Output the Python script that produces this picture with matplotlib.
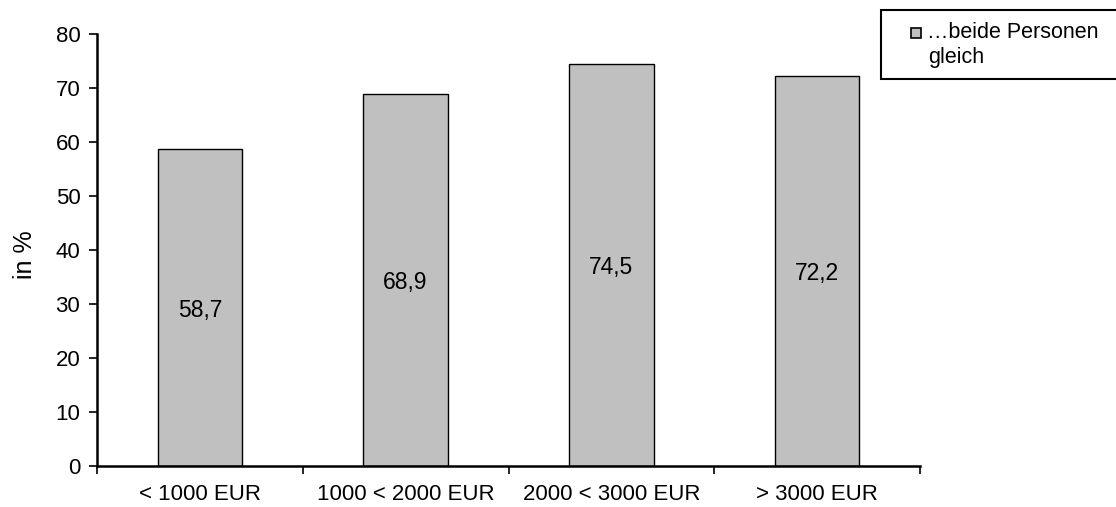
import matplotlib.pyplot as plt
from matplotlib.patches import Rectangle
import numpy as np

plt.rcParams['font.family'] = ['Liberation Sans', 'DejaVu Sans']

categories = ['< 1000 EUR', '1000 < 2000 EUR', '2000 < 3000 EUR', '> 3000 EUR']
values = [58.7, 68.9, 74.5, 72.2]
value_labels = ['58,7', '68,9', '74,5', '72,2']
series_name = ['…beide Personen', 'gleich']
bar_color = '#c0c0c0'

W, H = 1116, 507
fig = plt.figure(figsize=(W / 100, H / 100), dpi=100)
ax = fig.add_axes([97 / W, 1 - 466 / H, 823 / W, 432 / H])

x = np.arange(len(categories))
ax.bar(x, values, width=0.41, color=bar_color, edgecolor='black', linewidth=1.0)

# Werte in der Mitte der Balken
for xi, v, lab in zip(x, values, value_labels):
    ax.text(xi, v / 2 - 0.5, lab, ha='center', va='center', fontsize=16.5)

ax.set_xlim(-0.5, len(categories) - 0.5)
ax.set_ylim(0, 80)
ax.set_yticks(range(0, 81, 10))
ax.tick_params(axis='y', labelsize=16, length=6, width=1.2, direction='out', pad=6)

# Kategorien ohne Ticks, Ticks zwischen den Gruppen
ax.set_xticks(x)
ax.set_xticklabels(categories, fontsize=16)
ax.tick_params(axis='x', which='major', length=0, pad=13)
ax.set_xticks(np.arange(-0.5, len(categories)), minor=True)
ax.tick_params(axis='x', which='minor', length=6, width=1.2, direction='out')

ax.set_ylabel('in %', fontsize=18)
ax.yaxis.set_label_coords(-0.073, 0.49)

for side in ['top', 'right']:
    ax.spines[side].set_visible(False)
for side in ['left', 'bottom']:
    ax.spines[side].set_linewidth(1.8)

# Legende (Rahmen läuft rechts aus dem Bild)
fig.patches.append(Rectangle((881 / W, 1 - 79 / H), 260 / W, 69 / H,
                             transform=fig.transFigure, facecolor='white',
                             edgecolor='black', linewidth=1.5))
fig.patches.append(Rectangle((911 / W, 1 - 38 / H), 10 / W, 10 / H,
                             transform=fig.transFigure, facecolor=bar_color,
                             edgecolor='black', linewidth=1.2))
fig.text(927 / W, 1 - 33 / H, series_name[0], fontsize=15.5, va='center')
fig.text(928 / W, 1 - 57 / H, series_name[1], fontsize=15.5, va='center')

fig.savefig('out.png', dpi=100)
